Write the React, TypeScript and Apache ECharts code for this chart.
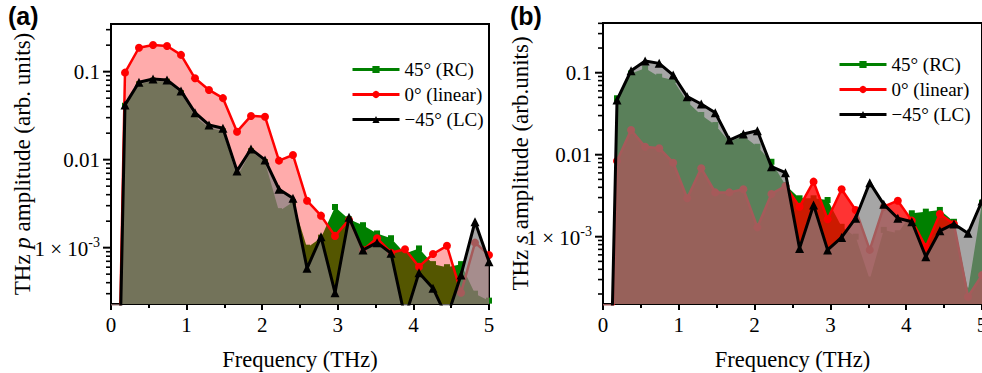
import React, { useEffect, useRef } from 'react';
import * as echarts from 'echarts';

// Frequency samples (THz); the first sample at 0 THz carries ~zero amplitude
const freqs = [0, 0.185, 0.37, 0.556, 0.741, 0.926, 1.111, 1.296, 1.481, 1.667, 1.852, 2.037, 2.222, 2.407, 2.593, 2.778, 2.963, 3.148, 3.333, 3.519, 3.704, 3.889, 4.074, 4.259, 4.444, 4.63, 4.815, 5.0];

// Panel (a): THz p amplitude
const rcA = [1e-9, 0.041, 0.072, 0.079, 0.077, 0.057, 0.031, 0.023, 0.021, 0.0064, 0.0125, 0.0094, 0.0026, 0.0033, 0.001, 0.0013, 0.0029, 0.0021, 0.0018, 0.00145, 0.00128, 0.00086, 0.00098, 0.00065, 0.0006, 0.00065, 0.0003, 0.00025];
const linA = [1e-9, 0.0975, 0.187, 0.201, 0.196, 0.155, 0.084, 0.062, 0.05, 0.0208, 0.0314, 0.0308, 0.00975, 0.0113, 0.00342, 0.00231, 0.00136, 0.00207, 0.00094, 0.00128, 0.000877, 0.00096, 0.000608, 0.000847, 0.00105, 0.000308, 0.00114, 0.000826];
const lcA = [1e-9, 0.0419, 0.0758, 0.0826, 0.0805, 0.0604, 0.0342, 0.0248, 0.0227, 0.00745, 0.0132, 0.00993, 0.00461, 0.00364, 0.000583, 0.00133, 0.000308, 0.00221, 0.00094, 0.00114, 0.000863, 0.00016, 0.00052, 0.000346, 0.00016, 0.00049, 0.00197, 0.000693];

// Panel (b): THz s amplitude
const rcB = [1e-9, 0.0488, 0.098, 0.113, 0.0894, 0.0815, 0.0443, 0.0305, 0.023, 0.0144, 0.0169, 0.0125, 0.0082, 0.00427, 0.00294, 0.00294, 0.0028, 0.00132, 0.001, 0.0003, 0.00121, 0.0011, 0.00193, 0.00202, 0.00212, 0.00152, 0.00022, 0.0026];
const linB = [1e-9, 0.0084, 0.02, 0.0125, 0.012, 0.00798, 0.00294, 0.00682, 0.00347, 0.00347, 0.00379, 0.0013, 0.00332, 0.00415, 0.00232, 0.00469, 0.00163, 0.00379, 0.00212, 0.00069, 0.00232, 0.00275, 0.00157, 0.00075, 0.00189, 0.00143, 0.000185, 0.00034];
const lcB = [1e-9, 0.0465, 0.106, 0.139, 0.13, 0.0937, 0.051, 0.0415, 0.0325, 0.0151, 0.0179, 0.0196, 0.00715, 0.00603, 0.00072, 0.00244, 0.00069, 0.00098, 0.00168, 0.00456, 0.00248, 0.00168, 0.00152, 0.00057, 0.00118, 0.00143, 0.0011, 0.00272];

const seriesNames = ['45° (RC)', '0° (linear)', '−45° (LC)'];
const panelLabels = ['(a)', '(b)'];
const yNames = ['THz {i|p} amplitude (arb. units)', 'THz {i|s} amplitude (arb.units)'];
const xName = 'Frequency (THz)';
const yMajor = [1e-3, 1e-2, 1e-1];
const yMinorA = [3e-4, 4e-4, 5e-4, 6e-4, 7e-4, 8e-4, 9e-4, 2e-3, 3e-3, 4e-3, 5e-3, 6e-3, 7e-3, 8e-3, 9e-3, 2e-2, 3e-2, 4e-2, 5e-2, 6e-2, 7e-2, 8e-2, 9e-2, 0.2, 0.3];
const yMinorB = [2e-4, 3e-4, 4e-4, 5e-4, 6e-4, 7e-4, 8e-4, 9e-4, 2e-3, 3e-3, 4e-3, 5e-3, 6e-3, 7e-3, 8e-3, 9e-3, 2e-2, 3e-2, 4e-2, 5e-2, 6e-2, 7e-2, 8e-2, 9e-2, 0.2, 0.3, 0.4];
const yRangeA = [2.29e-4, 0.348];
const yRangeB = [1.51e-4, 0.404];

const FONT = '"Liberation Serif", "Times New Roman", serif';
const GREEN = '#008000';
const RED = '#ff0000';
const BLACK = '#000000';

function pairs(ys: number[]) {
  return freqs.map((f, i) => [f, ys[i]]);
}

function fmtY(v: number) {
  const p = Math.round(Math.log10(v));
  if (p === -1) return '0.1';
  if (p === -2) return '0.01';
  return '{n|1 × 10}{s|' + p + '}';
}

function tickSeries(idx: number, minor: number[]) {
  const data = [...yMajor.map((v) => [0, v, 1]), ...minor.map((v) => [0, v, 0])];
  return {
    type: 'custom', xAxisIndex: idx, yAxisIndex: idx, data, z: 10, silent: true, clip: false,
    encode: { x: 0, y: 1 },
    renderItem: (params: any, api: any) => {
      const pt = api.coord([0, api.value(1)]);
      const major = api.value(2) ? true : false;
      const len = major ? 8 : 5;
      return {
        type: 'line',
        shape: { x1: pt[0] - len, y1: pt[1], x2: pt[0], y2: pt[1] },
        style: { stroke: BLACK, lineWidth: major ? 2 : 1.6 },
      };
    },
  };
}

function buildPanel(idx: number, grid: any, range: number[], minor: number[], data: number[][], redOpacity: number, yGap: number) {
  const axisLine = { show: true, lineStyle: { color: BLACK, width: 2 } };
  const xAxis = {
    gridIndex: idx, type: 'value', min: 0, max: 5, interval: 1,
    axisLine, splitLine: { show: false },
    axisTick: { show: true, length: 6, lineStyle: { color: BLACK, width: 2 } },
    minorTick: { show: true, splitNumber: 2, length: 4, lineStyle: { color: BLACK, width: 2 } },
    minorSplitLine: { show: false },
    axisLabel: { fontSize: 21, color: BLACK, fontFamily: FONT, margin: 10, showMinLabel: true, showMaxLabel: true },
    name: xName, nameLocation: 'middle', nameGap: 44, nameMoveOverlap: false,
    nameTextStyle: { fontSize: 22.5, color: BLACK, fontFamily: FONT },
  };
  const yMain = {
    gridIndex: idx, type: 'log', logBase: 10, min: range[0], max: range[1], position: 'left',
    axisLine, splitLine: { show: false },
    axisTick: { show: false },
    axisLabel: {
      customValues: yMajor, formatter: fmtY, fontSize: 21, color: BLACK, fontFamily: FONT, margin: 11,
      rich: {
        n: { fontSize: 21, fontFamily: FONT, color: BLACK, lineHeight: 24, verticalAlign: 'bottom' },
        s: { fontSize: 14, fontFamily: FONT, color: BLACK, lineHeight: 14, verticalAlign: 'top' },
      },
    },
    name: yNames[idx], nameLocation: 'middle', nameGap: yGap, nameMoveOverlap: false,
    nameTextStyle: {
      fontSize: 23, color: BLACK, fontFamily: FONT,
      rich: { i: { fontSize: 23, fontStyle: 'italic', fontFamily: FONT, color: BLACK } },
    },
  };
  const xi = idx;
  const yi = idx;
  const series = [
    {
      type: 'line', name: seriesNames[0], xAxisIndex: xi, yAxisIndex: yi, data: pairs(data[0]), z: 2,
      symbol: 'rect', symbolSize: 6, showSymbol: true, clip: true,
      lineStyle: { width: 0, color: GREEN }, itemStyle: { color: GREEN },
      areaStyle: { color: GREEN, opacity: 1, origin: 'start' },
    },
    {
      type: 'line', name: seriesNames[1], xAxisIndex: xi, yAxisIndex: yi, data: pairs(data[1]), z: 3,
      symbol: 'circle', symbolSize: 8, showSymbol: true, clip: true,
      lineStyle: { width: 2.5, color: RED }, itemStyle: { color: RED },
      areaStyle: { color: RED, opacity: redOpacity, origin: 'start' },
    },
    {
      type: 'line', name: seriesNames[2], xAxisIndex: xi, yAxisIndex: yi, data: pairs(data[2]), z: 4,
      symbol: 'triangle', symbolSize: 9, showSymbol: true, clip: true,
      lineStyle: { width: 3, color: BLACK }, itemStyle: { color: BLACK },
      areaStyle: { color: '#808080', opacity: 0.7, origin: 'start' },
    },
    tickSeries(idx, minor),
  ];
  return { grid, xAxis, yAxis: yMain, series };
}

function legendFor(left: number, top: number) {
  return {
    orient: 'vertical', left, top, itemWidth: 47, itemHeight: 9, itemGap: 6, padding: 0,
    selectedMode: false,
    textStyle: { fontSize: 19, color: BLACK, fontFamily: FONT },
    data: [
      { name: seriesNames[0], lineStyle: { width: 3, color: GREEN, opacity: 1 } },
      { name: seriesNames[1], lineStyle: { width: 3 } },
      { name: seriesNames[2], lineStyle: { width: 3 } },
    ],
  };
}

export default function App() {
  const ref = useRef<HTMLDivElement>(null);
  useEffect(() => {
    if (!ref.current) return;
    const chart = echarts.init(ref.current, undefined, { renderer: 'svg' });
    const gridStyle = { show: true, borderColor: BLACK, borderWidth: 2, backgroundColor: 'transparent', containLabel: false, outerBoundsMode: 'none' };
    const pA = buildPanel(0, { ...gridStyle, left: 111, top: 24, width: 378, height: 280 }, yRangeA, yMinorA, [rcA, linA, lcA], 0.33, 77);
    const pB = buildPanel(1, { ...gridStyle, left: 603, top: 23, width: 379, height: 281 }, yRangeB, yMinorB, [rcB, linB, lcB], 0.8, 71);
    const option: any = {
      animation: false,
      backgroundColor: '#ffffff',
      title: [
        { text: panelLabels[0], left: 8, top: 3, padding: 0, textStyle: { fontFamily: '"Liberation Sans", Arial, sans-serif', fontWeight: 'bold', fontSize: 25, color: BLACK } },
        { text: panelLabels[1], left: 510, top: 3, padding: 0, textStyle: { fontFamily: '"Liberation Sans", Arial, sans-serif', fontWeight: 'bold', fontSize: 25, color: BLACK } },
      ],
      legend: [legendFor(351, 60), legendFor(838, 55)],
      grid: [pA.grid, pB.grid],
      xAxis: [pA.xAxis, pB.xAxis],
      yAxis: [pA.yAxis, pB.yAxis],
      series: [...pA.series, ...pB.series],
    };
    chart.setOption(option);
    return () => chart.dispose();
  }, []);
  return <div ref={ref} style={{ position: 'fixed', left: 0, top: 0, width: 982, height: 373, background: '#fff' }} />;
}
